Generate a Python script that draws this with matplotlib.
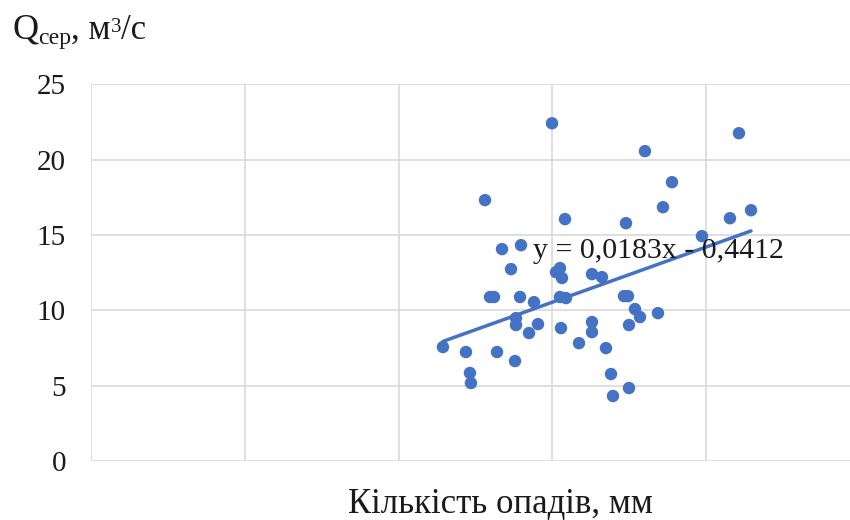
import matplotlib
matplotlib.use("Agg")
import matplotlib.pyplot as plt
import numpy as np

# Data
precip_mm = [457.7, 487.6, 492.8, 494.1, 512.4, 518.9, 524.1, 528.0, 534.5, 546.2,
             552.7, 552.7, 551.4, 557.9, 559.2, 569.6, 576.1, 581.3, 599.5, 604.7,
             609.9, 612.5, 609.9, 617.7, 611.2, 616.4, 634.6, 651.5, 664.5, 651.5,
             651.5, 669.7, 676.2, 678.8, 695.7, 693.1, 698.3, 699.6, 699.6, 707.4,
             713.9, 720.4, 737.3, 743.8, 755.5, 794.5, 830.9, 842.6, 858.3]
q_mean = [7.56, 7.23, 5.84, 5.17, 17.31, 10.88, 10.88, 7.23, 14.06, 12.73,
          9.48, 9.02, 6.63, 10.88, 14.32, 8.49, 10.54, 9.08, 22.41, 12.53,
          12.80, 12.14, 10.88, 10.81, 8.82, 16.05, 7.82, 12.40, 12.20, 9.22,
          8.55, 7.49, 5.77, 4.31, 15.78, 10.94, 10.94, 9.02, 4.84, 10.08,
          9.55, 20.56, 9.81, 16.84, 18.50, 14.92, 16.11, 21.75, 16.64]
trend_slope = 0.0183
trend_intercept = -0.4412
trend_label = "y = 0,0183x - 0,4412"
y_ticks = [0, 5, 10, 15, 20, 25]
x_grid = [0, 200, 400, 600, 800]
x_label = "Кількість опадів, мм"
y_title_parts = [("Q", 26, 0), ("сер", 17, -5), (", м", 25, 0), ("3", 15, 7), ("/с", 25, 0)]

plt.rcParams['font.family'] = ['Liberation Serif', 'DejaVu Serif']

fig = plt.figure(figsize=(8.5, 5.2), dpi=100)
ax = fig.add_axes([0.107, 0.1135, 0.893, 0.7245])

blue = '#4472C4'
grid_c = '#d9d9d9'
txt_c = '#1a1a1a'

ax.set_xlim(0, 987)
ax.set_ylim(0, 25)
ax.set_xticks(x_grid)
ax.set_xticklabels([])
ax.set_yticks(y_ticks)
ax.set_yticklabels([str(v) for v in y_ticks])
ax.tick_params(axis='both', length=0)
ax.tick_params(axis='y', labelsize=21, pad=18, colors=txt_c)
for s in ax.spines.values():
    s.set_visible(False)
ax.grid(True, color=grid_c, linewidth=1.2)
ax.set_axisbelow(True)

ax.scatter(precip_mm, q_mean, s=80, color=blue, edgecolors='none', zorder=3)

xs = np.array([min(precip_mm), max(precip_mm)])
ax.plot(xs, trend_slope * xs + trend_intercept, color=blue, linewidth=2.5,
        solid_capstyle='round', zorder=3)

ax.text(575, 13.46, trend_label, fontsize=21.5, color=txt_c, va='baseline', ha='left', zorder=4)

# Axis titles
fig.text(0.5 * (345 + 655) / 850, 1 - 513 / 520, x_label,
         fontsize=25, ha='center', va='baseline', color=txt_c)

# Y title composed of pieces on a common baseline (pixel offsets)
renderer = fig.canvas.get_renderer()
W, H = fig.bbox.width, fig.bbox.height
x_px = 12.0
base_px = 39.0  # from top
for txt, size, dy in y_title_parts:
    t = fig.text(x_px / W, 1 - (base_px - dy) / H, txt, fontsize=size,
                 ha='left', va='baseline', color=txt_c)
    ext = t.get_window_extent(renderer)
    x_px = ext.x1

fig.savefig("out.png", dpi=100)
